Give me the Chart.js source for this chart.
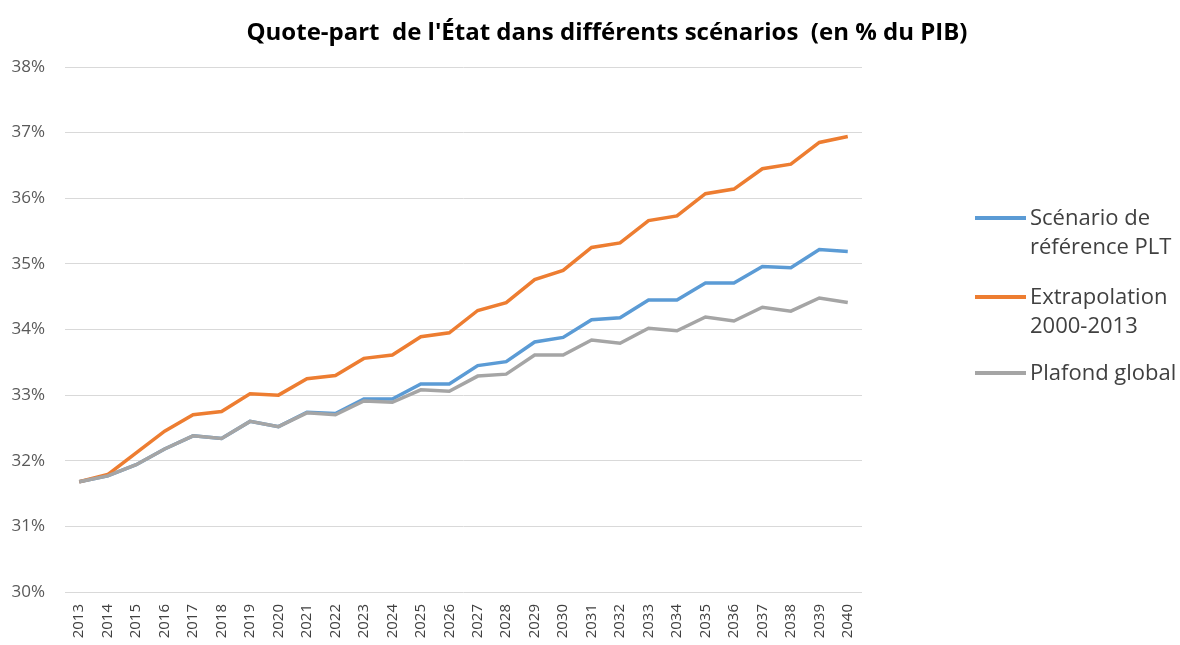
<!DOCTYPE html>
<html>
<head>
<meta charset="utf-8">
<script src="https://cdn.jsdelivr.net/npm/chart.js@4.4.1/dist/chart.umd.min.js"></script>
<style>
    body { margin: 0; background: #fff; font-family: 'Open Sans', sans-serif; }
    .wrap { position: relative; width: 1180px; height: 645px; overflow: hidden; }
    .title { position: absolute; left: 0; top: 14px; width: 1214px; text-align: center;
        font-size: 24px; line-height: 34px; font-weight: bold; color: #000; white-space: pre; }
    .legend { position: absolute; left: 975px; top: 0; color: #404040; font-size: 22px; line-height: 29px; }
    .legend .item { position: absolute; left: 0; white-space: nowrap; }
    .legend .swatch { position: absolute; left: 0; top: 14px; width: 51px; height: 4px; }
    .legend .txt { position: absolute; left: 55px; top: 0; }
</style>
</head>
<body>
<div class="wrap">
    <canvas id="chartCanvas" width="1180" height="645"></canvas>
    <div class="title" id="title"></div>
    <div class="legend" id="legend"></div>
</div>
<script>
// years on the x axis
const years = ['2013','2014','2015','2016','2017','2018','2019','2020','2021','2022',
    '2023','2024','2025','2026','2027','2028','2029','2030','2031','2032',
    '2033','2034','2035','2036','2037','2038','2039','2040']

// Scénario de référence PLT
const referencePLT = [31.68, 31.77, 31.94, 32.18, 32.38, 32.34, 32.60, 32.52, 32.74, 32.72,
    32.94, 32.94, 33.17, 33.17, 33.45, 33.51, 33.81, 33.88, 34.15, 34.18,
    34.45, 34.45, 34.71, 34.71, 34.96, 34.94, 35.22, 35.19]

// Extrapolation 2000-2013
const extrapolation = [31.68, 31.79, 32.12, 32.45, 32.70, 32.75, 33.02, 33.00, 33.25, 33.30,
    33.56, 33.61, 33.89, 33.95, 34.29, 34.41, 34.76, 34.90, 35.25, 35.32,
    35.66, 35.73, 36.07, 36.14, 36.45, 36.52, 36.85, 36.94]

// Plafond global
const plafondGlobal = [31.68, 31.77, 31.94, 32.18, 32.38, 32.34, 32.60, 32.52, 32.73, 32.70,
    32.91, 32.89, 33.08, 33.06, 33.29, 33.32, 33.61, 33.61, 33.84, 33.79,
    34.02, 33.98, 34.19, 34.13, 34.34, 34.28, 34.48, 34.41]

const yTicks = [30, 31, 32, 33, 34, 35, 36, 37, 38]

const chartTitle = "Quote-part  de l'État dans différents scénarios  (en % du PIB)"

const series = [
    { label: ['Scénario de', 'référence PLT'], data: referencePLT, color: '#5b9bd5', top: 202 },
    { label: ['Extrapolation', '2000-2013'], data: extrapolation, color: '#ed7d31', top: 281 },
    { label: ['Plafond global'], data: plafondGlobal, color: '#a5a5a5', top: 357 }
]

document.querySelector('#title').textContent = chartTitle

// html legend, labels wrap on two lines like the original
let legendHtml = ''
series.forEach(s => {
    legendHtml += `
        <div class="item" style="top:${s.top}px">
            <div class="swatch" style="background:${s.color}"></div>
            <div class="txt">${s.label.join('<br>')}</div>
        </div>
    `
})
document.querySelector('#legend').innerHTML = legendHtml

const chartData = {
    labels: years,
    datasets: series.map(s => ({
        label: s.label.join(' '),
        data: s.data,
        borderColor: s.color,
        backgroundColor: s.color,
        borderWidth: 3.5,
        pointRadius: 0,
        tension: 0
    })).reverse()
}

const config = {
    type: 'line',
    data: chartData,
    options: {
        responsive: false,
        animation: false,
        layout: {
            padding: { left: 0, right: 318, top: 67, bottom: 0 }
        },
        plugins: {
            legend: { display: false },
            tooltip: { enabled: false }
        },
        scales: {
            x: {
                offset: true,
                grid: { display: false },
                border: { display: false },
                afterFit: scale => { scale.height = 53 },
                ticks: {
                    color: '#404040',
                    font: { family: 'Open Sans', size: 15 },
                    minRotation: 90,
                    maxRotation: 90,
                    autoSkip: false,
                    padding: 4
                }
            },
            y: {
                min: 30,
                max: 38,
                afterBuildTicks: axis => { axis.ticks = yTicks.map(v => ({ value: v })) },
                afterFit: scale => { scale.width = 65 },
                grid: { color: '#d9d9d9', lineWidth: 1, drawTicks: false },
                border: { display: false },
                ticks: {
                    color: '#595959',
                    font: { family: 'Open Sans', size: 17 },
                    padding: 20,
                    callback: v => v + '%'
                }
            }
        }
    }
}

const myChart = new Chart(document.getElementById('chartCanvas'), config)
</script>
</body>
</html>
